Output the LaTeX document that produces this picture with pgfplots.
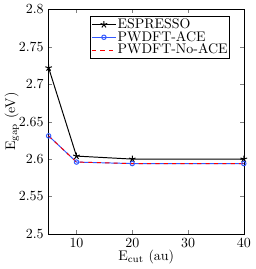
\documentclass[border=0pt]{standalone}
\usepackage{pgfplots}
\pgfplotsset{compat=1.18}
\begin{document}
\begin{tikzpicture}
\begin{axis}[
  scale only axis,
  width=140pt, height=161pt,
  xmin=5, xmax=40, ymin=2.5, ymax=2.8,
  xtick={10,20,30,40},
  ytick={2.5,2.55,2.6,2.65,2.7,2.75,2.8},
  yticklabels={2.5,2.55,2.6,2.65,2.7,2.75,2.8},
  tick align=inside,
  tick pos=both,
  major tick length=2.5pt,
  xlabel={E$_{\mathrm{cut}}$ (au)},
  ylabel={E$_{\mathrm{gap}}$ (eV)},
  xlabel style={yshift=5pt},
  ylabel style={yshift=-7pt},
  legend style={at={(0.93,0.97)}, anchor=north east, draw=black, line width=0.5pt, inner sep=0.5pt, row sep=-1.5pt, font=\normalsize, nodes={inner sep=1pt}},
  legend cell align=left,
  legend image code/.code={\draw[mark repeat=2,mark phase=2] plot coordinates {(0cm,0cm) (0.3cm,0cm) (0.6cm,0cm)};},
  axis line style={line width=0.4pt},
]
\addplot[black, line width=0.7pt, mark=star, mark size=2.5pt, mark options={solid}] coordinates {(5,2.722) (10,2.604) (20,2.600) (40,2.600)};
\addlegendentry{ESPRESSO}
\addplot[color={rgb,1:red,0.2;green,0.35;blue,1}, line width=0.7pt, mark=o, mark size=1.6pt, mark options={solid}] coordinates {(5,2.631) (10,2.596) (20,2.594) (40,2.594)};
\addlegendentry{PWDFT-ACE}
\addplot[red, line width=0.7pt, dashed] coordinates {(5,2.631) (10,2.596) (20,2.594) (40,2.594)};
\addlegendentry{PWDFT-No-ACE}
\end{axis}
\path ([yshift=6pt]current axis.north);
\end{tikzpicture}
\end{document}
